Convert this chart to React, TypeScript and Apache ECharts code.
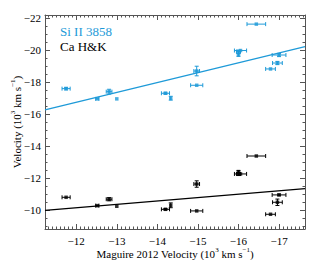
import React, { useEffect, useRef } from "react";
import * as echarts from "echarts";

// Maguire 2012 velocity (10^3 km/s) for each supernova
const sneX = [-11.75, -12.52, -12.81, -13.0, -14.2, -14.33, -14.97, -14.97, -16.0, -16.05, -16.0, -16.44, -17.0, -16.96, -16.79];
const sneXErr = [0.1, 0.04, 0.07, 0, 0.1, 0, 0.15, 0.07, 0.05, 0.15, 0, 0.23, 0.17, 0.12, 0.12];

// Si II 3858 velocities
const siY = [-17.6, -16.96, -17.41, -16.96, -17.31, -17.0, -17.81, -18.7, -19.91, -19.98, -19.7, -21.63, -19.7, -19.2, -18.83];
const siYErr = [0.08, 0, 0.15, 0, 0.06, 0.12, 0, 0.3, 0.1, 0, 0.08, 0, 0.1, 0.1, 0];

// Ca H&K velocities
const caY = [-10.81, -10.29, -10.69, -10.25, -10.06, -10.31, -9.96, -11.64, -12.27, -12.27, -12.41, -13.39, -10.96, -10.5, -9.75];
const caYErr = [0, 0, 0.1, 0, 0.05, 0.15, 0, 0.2, 0.1, 0, 0.08, 0, 0.05, 0.2, 0];

// linear fits (endpoints at the axis extent)
const fitX = [-11.23, -17.64];
const siFitY = [-16.27, -20.22];
const caFitY = [-10.0, -11.35];

const xMajor = [-12, -13, -14, -15, -16, -17];
const yMajor = [-22, -20, -18, -16, -14, -12, -10];

const X_MIN = -17.64;
const X_MAX = -11.23;
const Y_MIN = -22.2;
const Y_MAX = -8.83;

const BLUE = "#1e9ad8";
const FRAME = "#555555";
const FONT = "Liberation Serif";

const range = (a: number, b: number, step: number) => {
  const out: number[] = [];
  const n = Math.round((b - a) / step);
  for (let i = 0; i <= n; i++) out.push(Math.round((a + i * step) * 100) / 100);
  return out;
};
const xMinor = range(-17.6, -11.3, 0.1);
const yMinor = range(-22, -9, 0.5);

const fmt = (v: number) => (v < 0 ? "\u2212" + Math.abs(v) : String(v));

function errRender(color: string) {
  return (params: any, api: any) => {
    const x = api.value(0);
    const y = api.value(1);
    const xe = api.value(2);
    const ye = api.value(3);
    const children: any[] = [];
    const st = { stroke: color, lineWidth: 1 };
    const cap = 2;
    if (xe > 0) {
      const a = api.coord([x - xe, y]);
      const b = api.coord([x + xe, y]);
      children.push({ type: "line", shape: { x1: a[0], y1: a[1], x2: b[0], y2: b[1] }, style: st });
      children.push({ type: "line", shape: { x1: a[0], y1: a[1] - cap, x2: a[0], y2: a[1] + cap }, style: st });
      children.push({ type: "line", shape: { x1: b[0], y1: b[1] - cap, x2: b[0], y2: b[1] + cap }, style: st });
    }
    if (ye > 0) {
      const a = api.coord([x, y - ye]);
      const b = api.coord([x, y + ye]);
      children.push({ type: "line", shape: { x1: a[0], y1: a[1], x2: b[0], y2: b[1] }, style: st });
      children.push({ type: "line", shape: { x1: a[0] - cap, y1: a[1], x2: a[0] + cap, y2: a[1] }, style: st });
      children.push({ type: "line", shape: { x1: b[0] - cap, y1: b[1], x2: b[0] + cap, y2: b[1] }, style: st });
    }
    return { type: "group", children };
  };
}

export default function App() {
  const ref = useRef<HTMLDivElement>(null);
  useEffect(() => {
    const chart = echarts.init(ref.current!, null, { renderer: "svg" });

    const rich = {
      n: { fontFamily: FONT, fontSize: 11, color: "#000", verticalAlign: "bottom", lineHeight: 13 },
      s: { fontFamily: FONT, fontSize: 7, color: "#000", verticalAlign: "top", lineHeight: 13 },
    };

    const baseX = (pos: "bottom" | "top", ticks: number[], len: number, labels: boolean, line: boolean, name?: boolean) => ({
      type: "value",
      position: pos,
      min: X_MIN,
      max: X_MAX,
      inverse: true,
      gridIndex: 0,
      splitLine: { show: false },
      axisLine: { show: line, onZero: false, lineStyle: { color: FRAME, width: 1 } },
      axisTick: { show: true, inside: true, length: len, customValues: ticks, lineStyle: { color: FRAME, width: 1 } },
      axisLabel: {
        show: labels,
        customValues: xMajor,
        formatter: fmt,
        margin: 6,
        color: "#000",
        fontFamily: FONT,
        fontSize: 11,
      },
      ...(name
        ? {
            name: "{n|Maguire 2012 Velocity (10}{s|3}{n| km s}{s|\u22121}{n|)}",
            nameLocation: "middle",
            nameGap: 17,
            nameMoveOverlap: false,
            nameTextStyle: { rich },
          }
        : {}),
    });

    const baseY = (pos: "left" | "right", ticks: number[], len: number, labels: boolean, line: boolean, name?: boolean) => ({
      type: "value",
      position: pos,
      min: Y_MIN,
      max: Y_MAX,
      inverse: true,
      gridIndex: 0,
      splitLine: { show: false },
      axisLine: { show: line, onZero: false, lineStyle: { color: FRAME, width: 1 } },
      axisTick: { show: true, inside: true, length: len, customValues: ticks, lineStyle: { color: FRAME, width: 1 } },
      axisLabel: {
        show: labels,
        customValues: yMajor,
        formatter: fmt,
        margin: 4,
        color: "#000",
        fontFamily: FONT,
        fontSize: 11,
      },
      ...(name
        ? {
            name: "{n|Velocity (10}{s|3}{n| km s}{s|\u22121}{n|)}",
            nameLocation: "middle",
            nameRotate: 90,
            nameGap: 23,
            nameMoveOverlap: false,
            nameTextStyle: { rich },
          }
        : {}),
    });

    const siErr = sneX.map((x, i) => [x, siY[i], sneXErr[i], siYErr[i]]);
    const caErr = sneX.map((x, i) => [x, caY[i], sneXErr[i], caYErr[i]]);

    const option: any = {
      animation: false,
      grid: { left: 45, right: 14, top: 15, bottom: 31, containLabel: false, outerBoundsMode: "none" },
      xAxis: [
        baseX("bottom", xMajor, 5, true, true, true),
        baseX("bottom", xMinor, 2.5, false, false),
        baseX("top", xMajor, 5, false, true),
        baseX("top", xMinor, 2.5, false, false),
      ],
      yAxis: [
        baseY("left", yMajor, 5, true, true, true),
        baseY("left", yMinor, 2.5, false, false),
        baseY("right", yMajor, 5, false, true),
        baseY("right", yMinor, 2.5, false, false),
      ],
      graphic: [
        { type: "text", left: 60, top: 25, style: { text: "Si II 3858", fill: BLUE, fontFamily: FONT, fontSize: 13 } },
        { type: "text", left: 60, top: 40, style: { text: "Ca H&K", fill: "#000", fontFamily: FONT, fontSize: 13 } },
      ],
      series: [
        {
          type: "line",
          data: fitX.map((x, i) => [x, siFitY[i]]),
          showSymbol: false,
          lineStyle: { color: BLUE, width: 1.3 },
          z: 2,
        },
        {
          type: "line",
          data: fitX.map((x, i) => [x, caFitY[i]]),
          showSymbol: false,
          lineStyle: { color: "#000", width: 1.3 },
          z: 2,
        },
        { type: "custom", renderItem: errRender(BLUE), data: siErr, encode: { x: 0, y: 1 }, z: 3 },
        { type: "custom", renderItem: errRender("#000"), data: caErr, encode: { x: 0, y: 1 }, z: 3 },
        {
          type: "scatter",
          data: sneX.map((x, i) => [x, siY[i]]),
          symbol: "rect",
          symbolSize: 3.5,
          itemStyle: { color: BLUE },
          z: 4,
        },
        {
          type: "scatter",
          data: sneX.map((x, i) => [x, caY[i]]),
          symbol: "rect",
          symbolSize: 3.5,
          itemStyle: { color: "#000" },
          z: 4,
        },
      ],
    };
    chart.setOption(option);
    return () => chart.dispose();
  }, []);
  return <div ref={ref} style={{ position: "absolute", left: 0, top: 0, width: 319, height: 260 }} />;
}
